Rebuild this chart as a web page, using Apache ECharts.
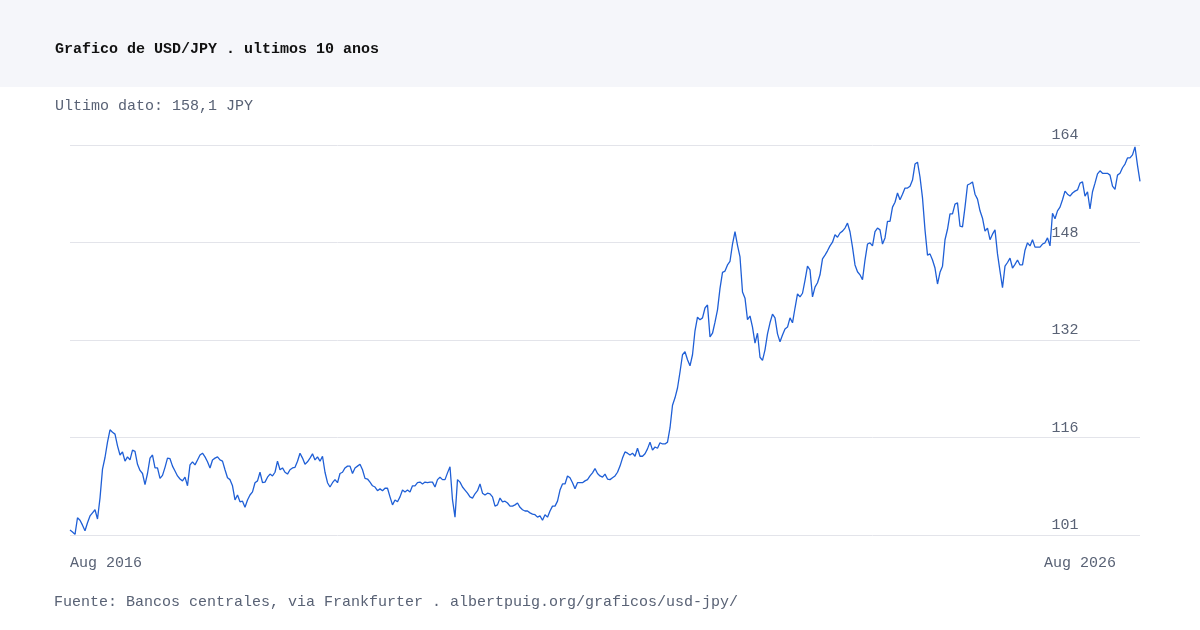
<!DOCTYPE html>
<html><head><meta charset="utf-8">
<script src="https://cdn.jsdelivr.net/npm/echarts@6/dist/echarts.min.js"></script>
<style>html,body{margin:0;padding:0;background:#fff}#c{width:1200px;height:630px}</style>
</head><body><div id="c"></div>
<script>
// USD/JPY, weekly-ish readings, Aug 2016 -> Aug 2026
const usdJpy = [
101.4,101.1,100.7,103.4,103.0,102.2,101.3,102.6,103.7,104.2,
104.7,103.2,106.6,111.3,113.2,115.7,117.7,117.3,117.0,115.1,
113.6,114.1,112.6,113.3,112.8,114.4,114.2,112.1,111.1,110.6,
108.8,110.6,113.1,113.6,111.5,111.5,109.8,110.3,111.6,113.1,
113.0,111.8,111.0,110.2,109.7,109.4,110.0,108.6,112.0,112.5,
112.0,112.8,113.6,113.9,113.3,112.5,111.5,112.8,113.1,113.3,
112.8,112.6,111.2,109.9,109.6,108.6,106.3,107.1,106.0,106.1,
105.1,106.3,107.1,107.6,109.1,109.4,110.8,109.1,109.2,110.0,
110.5,110.2,110.8,112.6,111.2,111.5,110.8,110.5,111.2,111.5,
111.6,112.6,113.9,113.1,112.1,112.5,113.1,113.8,112.8,113.3,
112.6,113.4,110.8,109.1,108.4,109.1,109.6,109.1,110.6,110.8,
111.5,111.8,111.8,110.6,111.5,111.8,112.1,111.2,109.8,109.7,
109.2,108.6,108.4,107.8,108.1,107.8,108.2,108.2,106.8,105.5,
106.3,106.0,106.8,107.9,107.6,107.9,107.6,108.6,108.6,109.1,
109.2,108.9,109.2,109.1,109.2,109.2,108.4,109.6,110.0,109.6,
109.6,110.7,111.7,106.3,103.5,109.6,109.2,108.4,107.9,107.4,
106.8,106.6,107.3,107.8,108.9,107.4,107.1,107.4,107.3,106.8,
105.3,105.5,106.6,106.0,106.1,105.8,105.3,105.3,105.5,105.8,
105.1,104.7,104.5,104.5,104.2,104.0,103.9,103.5,103.7,103.0,
103.9,103.5,104.5,105.3,105.3,106.1,107.9,108.9,108.9,110.2,
109.9,109.1,108.1,109.1,109.1,109.1,109.4,109.6,110.2,110.7,
111.4,110.6,110.2,110.0,110.5,109.7,109.6,109.9,110.2,110.8,
111.8,113.1,114.1,113.9,113.6,113.9,113.4,114.7,113.4,113.4,
113.8,114.6,115.7,114.4,114.9,114.7,115.6,115.4,115.4,115.7,
118.0,121.7,122.9,124.5,127.1,129.9,130.4,129.1,128.1,129.9,
133.8,136.0,135.6,135.9,137.5,138.0,132.8,133.4,135.2,137.2,
140.7,143.3,143.5,144.5,145.1,147.9,149.9,147.7,145.8,140.1,
139.1,135.6,136.2,134.4,131.8,133.4,129.5,129.0,130.7,133.3,
135.1,136.5,135.9,133.3,132.0,133.1,134.1,134.4,135.9,135.1,
137.5,139.8,139.3,139.9,142.0,144.3,143.7,139.3,140.9,141.6,
142.9,145.5,146.1,146.8,147.6,148.2,149.4,149.0,149.7,150.0,
150.5,151.3,149.9,147.4,144.5,143.4,142.9,142.1,145.3,147.9,
148.1,147.6,149.9,150.5,150.2,147.9,148.9,151.6,151.6,153.9,
154.7,156.2,155.1,156.0,157.0,157.0,157.3,158.3,160.9,161.2,
158.8,155.4,150.2,146.1,146.3,145.3,144.0,141.4,143.3,144.3,
148.6,150.3,152.8,152.8,154.4,154.6,150.8,150.7,153.9,157.5,
157.7,158.0,156.0,155.2,153.3,152.1,150.0,150.5,148.6,149.5,
150.2,146.3,143.5,140.8,144.3,144.9,145.6,144.0,144.6,145.3,
144.5,144.5,146.9,148.1,147.6,148.6,147.4,147.4,147.4,147.9,
148.1,148.9,147.6,152.9,152.0,153.3,153.9,155.1,156.5,156.0,
155.7,156.2,156.5,156.7,157.8,158.0,155.7,156.4,153.6,156.4,
157.8,159.3,159.8,159.4,159.4,159.4,159.1,157.3,156.8,159.1,
159.4,160.3,160.9,161.9,161.9,162.4,163.7,160.7,158.1
];
const xTickLabels = ['Aug 2016', 'Aug 2026'];
const xTickIndex = [0, 404];
const yMin = 100.6, yMax = 164, yStep = 15.85;
const categories = usdJpy.map((_, i) => String(i));

const FONT = '"Liberation Mono", "DejaVu Sans Mono", monospace';
const GREY = '#596275';

const chart = echarts.init(document.getElementById('c'), null, {renderer: 'canvas'});
chart.setOption({
  animation: false,
  backgroundColor: '#ffffff',
  graphic: {
    elements: [{
      type: 'rect', z: -10, silent: true,
      shape: {x: 0, y: 0, width: 1200, height: 87},
      style: {fill: '#f5f6fa'}
    }]
  },
  title: [
    {text: 'Grafico de USD/JPY . ultimos 10 anos', left: 55, top: 42, padding: 0,
     textStyle: {fontFamily: FONT, fontSize: 15, fontWeight: 'bold', color: '#111111'}},
    {text: 'Ultimo dato: 158,1 JPY', left: 55, top: 99, padding: 0,
     textStyle: {fontFamily: FONT, fontSize: 15, fontWeight: 'normal', color: GREY}},
    {text: 'Fuente: Bancos centrales, via Frankfurter . albertpuig.org/graficos/usd-jpy/', left: 54, top: 595, padding: 0,
     textStyle: {fontFamily: FONT, fontSize: 15, fontWeight: 'normal', color: GREY}}
  ],
  grid: {left: 70, right: 60, top: 145, bottom: 95, containLabel: false},
  xAxis: {
    type: 'category',
    data: categories,
    boundaryGap: false,
    axisLine: {show: false},
    axisTick: {show: false},
    splitLine: {show: false},
    axisLabel: {
      interval: (i) => xTickIndex.indexOf(i) >= 0,
      formatter: (val, i) => {
        const k = xTickIndex.indexOf(Number(val));
        return k >= 0 ? xTickLabels[k] : '';
      },
      alignMinLabel: 'left',
      margin: 21,
      fontFamily: FONT, fontSize: 15, color: GREY
    }
  },
  yAxis: {
    type: 'value',
    position: 'right',
    min: yMin, max: yMax, interval: yStep,
    axisLine: {show: false},
    axisTick: {show: false},
    splitLine: {lineStyle: {color: '#e3e4ea', width: 1}},
    axisLabel: {
      inside: true,
      margin: 75,
      align: 'center',
      verticalAlign: 'bottom',
      padding: [0, 0, 2, 0],
      formatter: (v) => String(Math.round(v)),
      fontFamily: FONT, fontSize: 15, color: GREY
    }
  },
  series: [{
    type: 'line',
    data: usdJpy,
    showSymbol: false,
    symbol: 'none',
    lineStyle: {color: '#1f5fd6', width: 1.3},
    emphasis: {disabled: true}
  }]
});
</script></body></html>
